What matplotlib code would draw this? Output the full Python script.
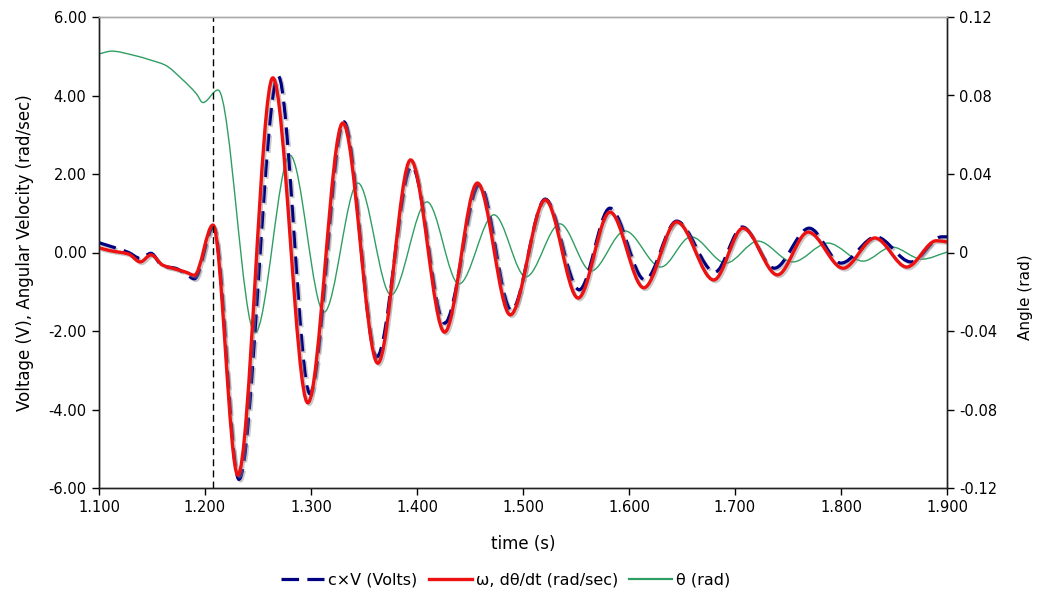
import numpy as np
import matplotlib
matplotlib.use("Agg")
import matplotlib.pyplot as plt
from matplotlib.path import Path
from matplotlib.patches import PathPatch
from matplotlib.lines import Line2D
import matplotlib.patheffects as pe
from matplotlib.ticker import FuncFormatter

# ---------------- data (turning points) ----------------
t_cv = [1.100, 1.128, 1.139, 1.149, 1.160, 1.172, 1.182, 1.190, 1.208, 1.232,
        1.269, 1.299, 1.331, 1.362, 1.395, 1.426, 1.459, 1.489, 1.521, 1.553,
        1.582, 1.615, 1.645, 1.681, 1.707, 1.737, 1.770, 1.800, 1.833, 1.866,
        1.895, 1.900]
v_cv = [0.25, 0.00, -0.15, -0.02, -0.35, -0.40, -0.55, -0.67, 0.65, -5.78,
        4.50, -3.60, 3.33, -2.66, 2.20, -1.80, 1.73, -1.47, 1.36, -0.95,
        1.13, -0.70, 0.80, -0.50, 0.65, -0.40, 0.62, -0.27, 0.40, -0.24,
        0.40, 0.40]

t_omega = [1.100, 1.110, 1.128, 1.139, 1.149, 1.160, 1.172, 1.182, 1.190, 1.2075,
           1.231, 1.264, 1.297, 1.330, 1.363, 1.394, 1.426, 1.457, 1.488, 1.521,
           1.552, 1.582, 1.614, 1.645, 1.680, 1.7075, 1.740, 1.769, 1.802, 1.832,
           1.862, 1.890, 1.900]
v_omega = [0.12, 0.05, -0.04, -0.24, -0.06, -0.32, -0.42, -0.50, -0.58, 0.70,
           -5.67, 4.45, -3.83, 3.30, -2.82, 2.36, -2.03, 1.77, -1.59, 1.34,
           -1.16, 1.03, -0.90, 0.78, -0.70, 0.62, -0.57, 0.52, -0.40, 0.37,
           -0.37, 0.30, 0.27]

t_theta = [1.100, 1.112, 1.132, 1.149, 1.162, 1.179, 1.192, 1.198, 1.2123, 1.2472,
           1.2802, 1.3123, 1.3443, 1.3755, 1.4094, 1.4396, 1.4726, 1.5028, 1.5349, 1.5642,
           1.5962, 1.630, 1.6585, 1.6915, 1.7217, 1.7547, 1.7877, 1.8208, 1.848, 1.8764,
           1.900]
v_theta = [0.1012, 0.1026, 0.1006, 0.0980, 0.0956, 0.0880, 0.0808, 0.0764, 0.0828, -0.0410,
           0.0496, -0.0304, 0.0354, -0.0216, 0.0258, -0.0160, 0.0192, -0.0124, 0.0146, -0.0094,
           0.0110, -0.0074, 0.0080, -0.0054, 0.0058, -0.0048, 0.0048, -0.0044, 0.0028, -0.0034,
           0.0002]

trigger_time = 1.2075

left_ticks = [-6, -4, -2, 0, 2, 4, 6]
right_ticks = [-0.12, -0.08, -0.04, 0, 0.04, 0.08, 0.12]
x_ticks = [1.1, 1.2, 1.3, 1.4, 1.5, 1.6, 1.7, 1.8, 1.9]

labels = ["c\u00d7V (Volts)", "\u03c9, d\u03b8/dt (rad/sec)", "\u03b8 (rad)"]


def smooth_path(x, y):
    """Smooth (monotone cubic Bezier) path through the given points."""
    x = np.asarray(x, float)
    y = np.asarray(y, float)
    h = np.diff(x)
    delta = np.diff(y) / h
    n = len(x)
    d = np.zeros(n)
    d[0] = delta[0]
    d[-1] = delta[-1]
    for i in range(1, n - 1):
        if delta[i - 1] * delta[i] <= 0:
            d[i] = 0.0
        else:
            w1 = 2 * h[i] + h[i - 1]
            w2 = h[i] + 2 * h[i - 1]
            d[i] = (w1 + w2) / (w1 / delta[i - 1] + w2 / delta[i])
    verts = [(x[0], y[0])]
    codes = [Path.MOVETO]
    for i in range(n - 1):
        hh = h[i]
        verts += [(x[i] + hh / 3, y[i] + d[i] * hh / 3),
                  (x[i + 1] - hh / 3, y[i + 1] - d[i + 1] * hh / 3),
                  (x[i + 1], y[i + 1])]
        codes += [Path.CURVE4] * 3
    return Path(verts, codes)


plt.rcParams['font.family'] = ['DejaVu Sans']
FS = 10.5
LFS = 12

fig = plt.figure(figsize=(10.39, 6.02), dpi=100)
ax = fig.add_axes([99 / 1039, 1 - 488 / 602, (947 - 99) / 1039, (488 - 17) / 602])
ax2 = ax.twinx()

NAVY = '#000080'
RED = '#ee1111'
GREEN = '#2f9e62'

shadow = [pe.SimpleLineShadow(offset=(1.2, -1.2), shadow_color='#888888', alpha=0.45), pe.Normal()]

p_theta = PathPatch(smooth_path(t_theta, v_theta), facecolor='none', edgecolor=GREEN,
                    lw=1.0, transform=ax2.transData, capstyle='round', joinstyle='round')
ax2.add_patch(p_theta)

p_cv = PathPatch(smooth_path(t_cv, v_cv), facecolor='none', edgecolor=NAVY, lw=2.3,
                 linestyle=(0, (5.5, 2.6)), transform=ax.transData, capstyle='butt',
                 path_effects=shadow)
ax.add_patch(p_cv)
p_om = PathPatch(smooth_path(t_omega, v_omega), facecolor='none', edgecolor=RED, lw=2.4,
                 transform=ax.transData, capstyle='round', joinstyle='round',
                 path_effects=shadow)
ax.add_patch(p_om)

ax.axvline(trigger_time, color='black', lw=1.0, linestyle=(0, (5, 3)))

ax.set_zorder(ax2.get_zorder() + 1)
ax.patch.set_visible(False)

ax.set_xlim(1.1, 1.9)
ax.set_ylim(-6, 6)
ax2.set_ylim(-0.12, 0.12)
ax.set_xticks(x_ticks)
ax.set_yticks(left_ticks)
ax2.set_yticks(right_ticks)
ax.xaxis.set_major_formatter(FuncFormatter(lambda v, p: f"{v:.3f}"))
ax.yaxis.set_major_formatter(FuncFormatter(lambda v, p: f"{v:.2f}"))
ax2.yaxis.set_major_formatter(FuncFormatter(lambda v, p: "0" if abs(v) < 1e-9 else f"{v:.2f}"))

for a in (ax, ax2):
    a.tick_params(labelsize=FS, length=5, width=1, direction='out', colors='black', pad=4)
    for s in a.spines.values():
        s.set_color('#222222')
        s.set_linewidth(1.0)
    a.spines['top'].set_color('#aaaaaa')

ax.set_xlabel("time (s)", fontsize=LFS, labelpad=14)
ax.set_ylabel("Voltage (V), Angular Velocity (rad/sec)", fontsize=LFS, labelpad=10)
ax2.set_ylabel("Angle (rad)", fontsize=11)
ax2.yaxis.set_label_coords(1.084, 0.405)

handles = [Line2D([], [], color=NAVY, lw=2.3, linestyle=(0, (5.5, 2.6))),
           Line2D([], [], color=RED, lw=2.4),
           Line2D([], [], color=GREEN, lw=1.6)]
fig.legend(handles, labels, loc='center', bbox_to_anchor=(0.487, 1 - 580 / 602), ncol=3,
           frameon=False, fontsize=11.5, handlelength=2.7, handletextpad=0.25,
           columnspacing=0.7)

fig.savefig("out.png", dpi=100)
